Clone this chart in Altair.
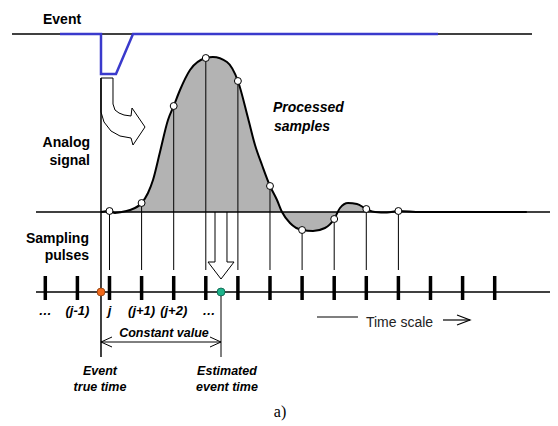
import altair as alt
import pandas as pd

# ---------------- data (x in sample periods, y in signal units) ----------------
sig_t = [-0.265, 0.0, 0.171, 0.327, 0.639, 1.0, 1.199, 1.355, 1.573, 1.822, 2.0, 2.196,
         2.508, 3.0, 3.224, 3.660, 4.0, 4.315, 4.533, 4.751, 5.0, 5.218, 5.374, 5.623,
         6.0, 6.340, 6.713, 7.0, 7.181, 7.430, 7.710, 8.0, 8.271, 8.645, 9.0, 9.688, 13.0]
sig_a = [0, 1, -1, -0.3, 2, 9, 19, 32, 60, 92, 106, 122,
         142, 154, 155, 150, 131, 94, 67, 47, 26, 12, 0, -11,
         -18, -19, -16, -7, 4, 9, 8, 3, 0, -0.5, 1, 0, 0]

sample_t = [0, 1, 2, 3, 4, 5, 6, 7, 8, 9]
sample_a = [1, 9, 106, 154, 131, 26, -18, -7, 3, 1]

tick_t = list(range(-2, 13))
tick_label_t = [-2, -1, 0, 1, 2, 3.1]
tick_labels = ["…", "(j-1)", "j", "(j+1)", "(j+2)", "…"]

event_true_t = -0.265
estimated_t = 3.474

# event trace
event_black_t = [-3.037, 13.162]
event_blue_t = [-1.542, -0.265, -0.265, 0.202, 0.732, 10.234]
event_blue_a = [178, 178, 138, 138, 178, 178]

# ---------------- scales ----------------
xs = alt.Scale(domain=[-3.162, 13.723], nice=False, zero=False)
ys = alt.Scale(domain=[-214, 204], nice=False, zero=False)


def X(f="t"):
    return alt.X(f, type="quantitative", scale=xs, axis=None)


def Y(f="a"):
    return alt.Y(f, type="quantitative", scale=ys, axis=None)


def path(ts, as_, color="black", width=1.0, groups=None, join="miter"):
    df = pd.DataFrame({"t": ts, "a": as_, "o": list(range(len(ts)))})
    if groups is not None:
        df["g"] = groups
    enc = dict(x=X(), y=Y(), order=alt.Order("o:Q"))
    if groups is not None:
        enc["detail"] = "g:N"
    return alt.Chart(df).mark_line(color=color, strokeWidth=width, strokeJoin=join).encode(**enc)


def rules(t1, a1, t2, a2, color="black", width=1.0):
    df = pd.DataFrame({"t": t1, "a": a1, "t2": t2, "a2": a2})
    return alt.Chart(df).mark_rule(color=color, strokeWidth=width).encode(
        x=X(), y=Y(), x2="t2:Q", y2="a2:Q")


def texts(ts, as_, labels, size=13, weight="bold", style="italic", align="center",
          font="Liberation Sans", color="black"):
    df = pd.DataFrame({"t": ts, "a": as_, "lab": labels})
    return alt.Chart(df).mark_text(fontSize=size, fontWeight=weight, fontStyle=style,
                                   align=align, baseline="middle", font=font,
                                   color=color).encode(x=X(), y=Y(), text="lab:N")


sig = pd.DataFrame({"t": sig_t, "a": sig_a})
samp = pd.DataFrame({"t": sample_t, "a": sample_a})

layers = []

# gray filled area under the processed part of the signal
layers.append(alt.Chart(sig).transform_filter("datum.t <= 8").mark_area(
    interpolate="monotone", color="#b3b3b3").encode(x=X(), y=Y(), y2=alt.datum(0)))

# sampling pulse lines
layers.append(rules(sample_t, sample_a, sample_t, [-58] * len(sample_t), width=1.0))

# baseline of the analog signal
layers.append(rules([-2.290], [0], [13.941], [0], width=1.5))

# vertical axis at event true time
layers.append(rules([event_true_t], [134], [event_true_t], [-145], width=1.5))

# analog signal
layers.append(alt.Chart(sig).mark_line(interpolate="monotone", color="black",
                                       strokeWidth=2).encode(x=X(), y=Y()))

# samples
layers.append(alt.Chart(samp).mark_point(shape="circle", filled=True, fill="white",
                                         stroke="black", strokeWidth=1, size=48,
                                         opacity=1).encode(x=X(), y=Y()))

# event trace
layers.append(rules([event_black_t[0]], [178], [event_black_t[1]], [178], width=1.5))
layers.append(path(event_blue_t, event_blue_a, color="#3a3acc", width=2.5))

# curved hollow arrow
ca_t = [-0.265, 0.109, 0.109, 0.171, 0.296, 0.452, 0.670, 0.701, 1.106, 0.732, 0.670,
        0.327, 0.047, -0.171, -0.265, -0.265]
ca_a = [134, 134, 108, 102, 99, 97, 96, 104, 85, 67, 74, 76, 81, 90, 100, 134]
layers.append(path(ca_t, ca_a, width=1.0))

# hollow down arrow (estimation)
da_t = [3.287, 3.287, 3.069, 3.474, 3.879, 3.660, 3.660]
da_a = [0, -50, -50, -67, -50, -50, 0]
layers.append(path(da_t, da_a, width=1.0))

# time axis
layers.append(rules([-2.290], [-80], [13.754], [-80], width=1.5))
layers.append(rules(tick_t, [-64] * len(tick_t), tick_t, [-88] * len(tick_t), width=3.5))

# estimated time vertical line
layers.append(rules([estimated_t], [-80], [estimated_t], [-145], width=1.0))

# constant value double arrow
layers.append(rules([event_true_t], [-130], [estimated_t], [-130], width=1.0))
layers.append(path([0.078, -0.265, 0.078, 3.131, 3.474, 3.131],
                   [-125, -130, -135, -125, -130, -135],
                   groups=[0, 0, 0, 1, 1, 1], width=1.0))

# time scale arrow
layers.append(rules([6.464], [-105], [7.741], [-105], width=1.2))
layers.append(rules([10.389], [-108], [11.231], [-108], width=1.2))
layers.append(path([10.826, 11.231, 10.826], [-103, -108, -113], width=1.2))

# dots
layers.append(alt.Chart(pd.DataFrame({"t": [event_true_t], "a": [-80]})).mark_point(
    shape="circle", filled=True, fill="#f26a1b", stroke="#8a3d0c", strokeWidth=0.8,
    size=64, opacity=1).encode(x=X(), y=Y()))
layers.append(alt.Chart(pd.DataFrame({"t": [estimated_t], "a": [-80]})).mark_point(
    shape="circle", filled=True, fill="#1db38b", stroke="#0b5d47", strokeWidth=0.8,
    size=64, opacity=1).encode(x=X(), y=Y()))

# ---------------- text ----------------
layers.append(texts([-2.072], [192], ["Event"], size=14, style="normal", align="left"))
layers.append(texts([-0.607, -0.607], [69, 51], ["Analog", "signal"], size=14,
                    style="normal", align="right"))
layers.append(texts([-0.639, -0.639], [-27, -44], ["Sampling", "pulses"], size=14,
                    style="normal", align="right"))
layers.append(texts(tick_label_t, [-99] * len(tick_label_t), tick_labels, size=13))
layers.append(texts([1.698], [-121], ["Constant value"], size=12.5))
layers.append(texts([-0.296, -0.296], [-159, -175], ["Event", "true time"], size=12.5))
layers.append(texts([3.660, 3.660], [-159, -175], ["Estimated", "event time"], size=12.5))
layers.append(texts([5.093, 5.125], [104, 85], ["Processed", "samples"], size=14, align="left"))
layers.append(texts([9.034], [-111], ["Time scale"], size=14, weight="normal", style="normal",
                    color="#222222"))
layers.append(texts([5.312], [-200], ["a)"], size=16, weight="normal", style="normal",
                    font="Liberation Serif"))

chart = alt.layer(*layers).properties(
    width=542, height=418, padding=0,
    autosize=alt.AutoSizeParams(type="none"),
    background="white",
).configure_view(stroke=None)

chart.save("out.html", embed_options={"renderer": "svg", "actions": False})
